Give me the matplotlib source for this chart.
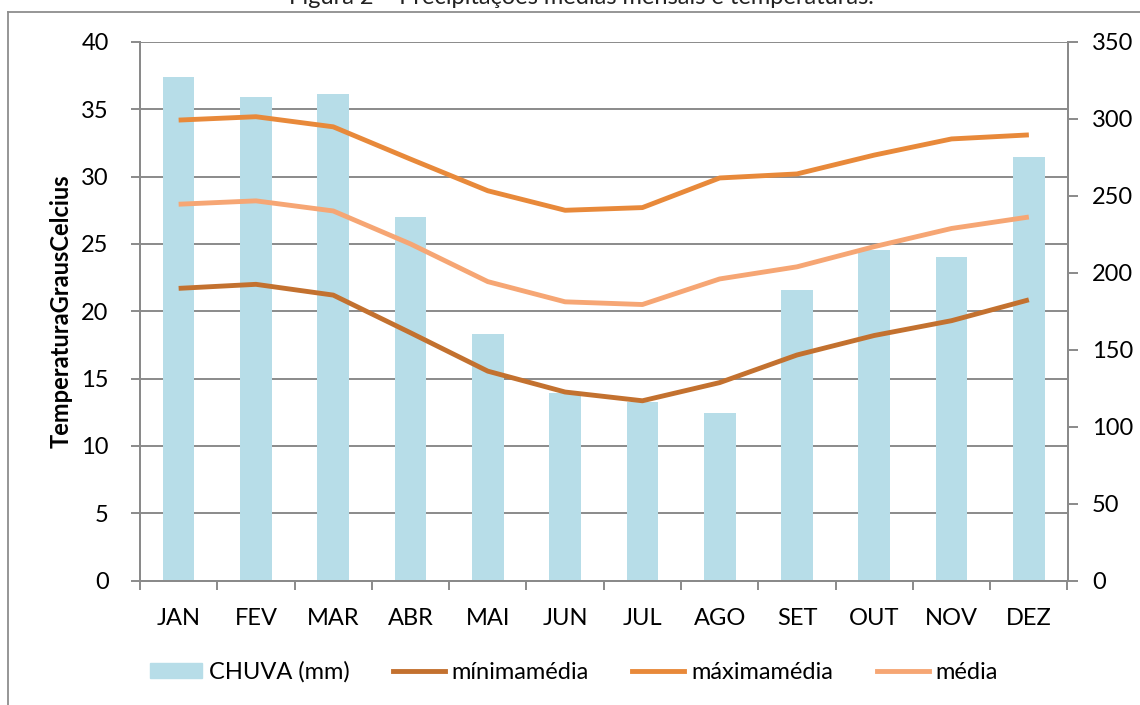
import matplotlib
matplotlib.use("Agg")
import matplotlib.pyplot as plt
from matplotlib.lines import Line2D
from matplotlib.transforms import blended_transform_factory
import numpy as np

# ---- data ----
meses = ["JAN", "FEV", "MAR", "ABR", "MAI", "JUN", "JUL", "AGO", "SET", "OUT", "NOV", "DEZ"]
chuva = [327, 314, 316, 236, 160, 122, 116, 109, 189, 215, 210, 275]
minima = [21.7, 22.0, 21.2, 18.4, 15.55, 14.0, 13.35, 14.7, 16.75, 18.2, 19.3, 20.85]
maxima = [34.2, 34.45, 33.7, 31.3, 28.95, 27.5, 27.7, 29.9, 30.2, 31.6, 32.8, 33.1]
media = [27.95, 28.2, 27.45, 25.0, 22.2, 20.7, 20.5, 22.4, 23.3, 24.8, 26.15, 27.0]
left_ticks = [0, 5, 10, 15, 20, 25, 30, 35, 40]
right_ticks = [0, 50, 100, 150, 200, 250, 300, 350]
title = "Figura 2 – Precipitações médias mensais e temperaturas."
ylabel = "TemperaturaGrausCelcius"
labels = ["CHUVA (mm)", "mínimamédia", "máximamédia", "média"]

FONT = ["Lato", "DejaVu Sans"]
plt.rcParams["font.family"] = FONT
FS = 17

c_bar = "#B7DDE8"
c_min = "#C3712F"
c_max = "#E8893A"
c_med = "#F6A674"
c_grid = "#8A8A8A"

W, H = 1140, 705
fig = plt.figure(figsize=(W / 100, H / 100), dpi=100)

x0, x1, ytop, ybot = 140, 1067.5, 42, 580.5
ax = fig.add_axes([x0 / W, (H - ybot) / H, (x1 - x0) / W, (ybot - ytop) / H])
ax2 = ax.twinx()
ax.set_zorder(ax2.get_zorder() + 1)
ax.patch.set_visible(False)

x = np.arange(len(meses))

# bars on right axis
ax2.bar(x, chuva, width=0.41, color=c_bar, zorder=2)
ax2.set_ylim(0, 350)
ax2.set_yticks(right_ticks)

# gridlines (left-axis positions) drawn behind bars
tr = blended_transform_factory(ax2.transAxes, ax.transData)
for v in left_ticks[1:]:
    ax2.add_line(Line2D([0, 1], [v, v], transform=tr, color=c_grid, lw=1.4, zorder=1))

# lines on left axis
lw = 3.5
ax.plot(x, minima, color=c_min, lw=lw, solid_capstyle="butt", solid_joinstyle="round")
ax.plot(x, maxima, color=c_max, lw=lw, solid_capstyle="butt", solid_joinstyle="round")
ax.plot(x, media, color=c_med, lw=lw, solid_capstyle="butt", solid_joinstyle="round")

ax.set_ylim(0, 40)
ax.set_yticks(left_ticks)
ax.set_xlim(-0.5, len(meses) - 0.5)
ax2.set_xlim(-0.5, len(meses) - 0.5)
ax.set_xticks(x)
ax.set_xticklabels(meses)
ax.set_xticks(np.arange(len(meses) + 1) - 0.5, minor=True)

for a in (ax, ax2):
    for s in a.spines.values():
        s.set_color(c_grid)
        s.set_linewidth(1.4)
    a.spines["top"].set_visible(False)

ax.tick_params(axis="y", direction="out", length=6.5, width=1.4, color=c_grid,
               pad=16, labelsize=FS)
ax2.tick_params(axis="y", direction="out", length=7, width=1.4, color=c_grid,
                pad=10.5, labelsize=FS)
ax.tick_params(axis="x", which="major", length=0, pad=20, labelsize=FS)
ax.tick_params(axis="x", which="minor", direction="out", length=6.5, width=1.4, color=c_grid)
ax2.tick_params(axis="x", which="both", length=0, labelbottom=False)

ax.set_ylabel(ylabel, fontsize=FS, fontweight="bold", labelpad=6)

# legend
handles = [
    plt.Rectangle((0, 0), 1, 1, color=c_bar),
    Line2D([], [], color=c_min, lw=lw),
    Line2D([], [], color=c_max, lw=lw),
    Line2D([], [], color=c_med, lw=lw),
]
fig.legend(handles, labels, loc="center left", bbox_to_anchor=(150 / W, 1 - 672 / H),
           ncol=4, frameon=False, fontsize=FS, handlelength=2.2, handleheight=0.65,
           handletextpad=0.28, columnspacing=1.85, borderpad=0, borderaxespad=0)

# title (partly cut at the top, as in the reference)
fig.text(0.51, 1 - 4 / H, title, ha="center", va="baseline", fontsize=FS, color="#222222")

# chart frame
fig.add_artist(Line2D([8 / W, 8 / W], [0, 1 - 12 / H], color="#8E8E8E", lw=1.3))
fig.add_artist(Line2D([8 / W, 1], [1 - 12 / H, 1 - 12 / H], color="#8E8E8E", lw=1.3))

fig.savefig("out.png", dpi=100)
